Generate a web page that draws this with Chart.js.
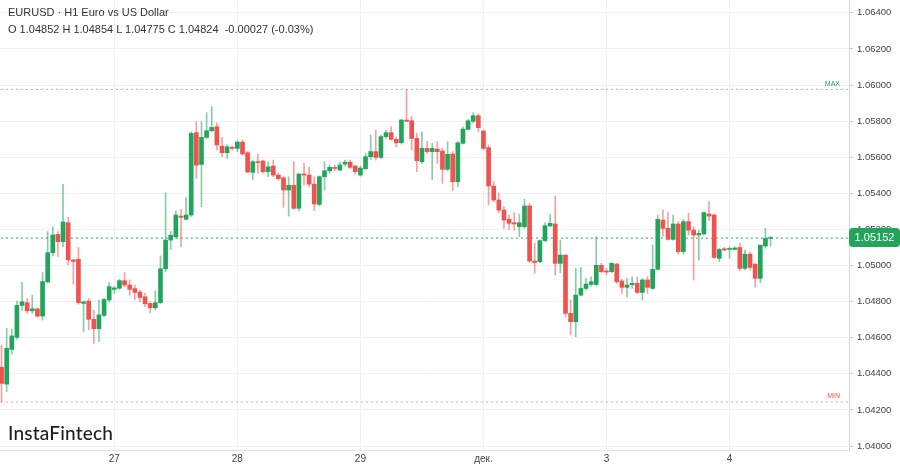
<!DOCTYPE html>
<html>
<head>
<meta charset="utf-8">
<script src="https://cdn.jsdelivr.net/npm/chart.js@4.4.1/dist/chart.umd.min.js"></script>
<style>
  body { margin: 0; background: #fff; }
  #wrap { position: relative; width: 900px; height: 468px; }
  .hdr { position: absolute; left: 8px; font: 11px "Liberation Sans", Arial, sans-serif; color: #333; white-space: pre; }
  #logo { position: absolute; left: 8px; top: 421px; font: 500 19px "Lato", "Noto Sans", sans-serif; color: #1e1e1e; letter-spacing: 0.2px; }
</style>
</head>
<body>
<div id="wrap">
  <canvas id="candles" width="900" height="468"></canvas>
  <div class="hdr" style="top:6px">EURUSD · H1 Euro vs US Dollar</div>
  <div class="hdr" style="top:23px">O 1.04852 H 1.04854 L 1.04775 C 1.04824  -0.00027 (-0.03%)</div>
  <div id="logo">InstaFintech</div>
</div>
<script>
// EURUSD H1 свечи (151 свеча)
const opens = [
  1.04436,1.04343,1.04535,1.04602,1.04779,1.04794,1.04749,1.04760,1.04720,1.04909,
  1.05071,1.05173,1.05132,1.05237,1.05031,1.05034,1.04790,1.04803,1.04702,1.04650,
  1.04724,1.04809,1.04868,1.04874,1.04916,1.04892,1.04872,1.04853,1.04827,1.04790,
  1.04766,1.04794,1.04982,1.05141,1.05160,1.05274,1.05256,1.05280,1.05736,1.05560,
  1.05710,1.05747,1.05769,1.05662,1.05625,1.05655,1.05649,1.05684,1.05625,1.05516,
  1.05575,1.05579,1.05520,1.05551,1.05501,1.05486,1.05418,1.05444,1.05317,1.05507,
  1.05501,1.05451,1.05339,1.05492,1.05525,1.05544,1.05529,1.05562,1.05573,1.05551,
  1.05501,1.05536,1.05603,1.05631,1.05599,1.05714,1.05736,1.05699,1.05680,1.05806,
  1.05802,1.05704,1.05575,1.05649,1.05631,1.05645,1.05634,1.05533,1.05618,1.05464,
  1.05677,1.05754,1.05799,1.05830,1.05745,1.05653,1.05440,1.05363,1.05307,1.05256,
  1.05237,1.05215,1.05215,1.05330,1.05025,1.05021,1.05138,1.05219,1.05230,1.05012,
  1.05058,1.04735,1.04689,1.04836,1.04873,1.04895,1.04895,1.05001,1.04970,1.04966,
  1.05008,1.04914,1.04879,1.04894,1.04901,1.04851,1.04920,1.04873,1.04979,1.05252,
  1.05206,1.05145,1.05230,1.05077,1.05243,1.05196,1.05169,1.05175,1.05285,1.05280,
  1.05040,1.05093,1.05089,1.05089,1.05100,1.04984,1.05063,1.05008,1.04929,1.05108,
  1.05150
];
const highs = [
  1.04559,1.04652,1.04647,1.04803,1.04907,1.04818,1.04836,1.04762,1.04961,1.05188,
  1.05215,1.05188,1.05450,1.05267,1.05034,1.05101,1.04803,1.04818,1.04753,1.04809,
  1.04818,1.04905,1.04883,1.04924,1.04962,1.04920,1.04892,1.04864,1.04846,1.04799,
  1.04860,1.05053,1.05403,1.05188,1.05302,1.05311,1.05377,1.05741,1.05797,1.05797,
  1.05847,1.05880,1.05791,1.05710,1.05668,1.05662,1.05692,1.05695,1.05631,1.05584,
  1.05618,1.05584,1.05575,1.05584,1.05511,1.05492,1.05492,1.05575,1.05510,1.05566,
  1.05544,1.05492,1.05496,1.05575,1.05557,1.05557,1.05575,1.05584,1.05584,1.05557,
  1.05551,1.05621,1.05723,1.05751,1.05723,1.05751,1.05769,1.05710,1.05810,1.05976,
  1.05825,1.05732,1.05741,1.05686,1.05677,1.05686,1.05649,1.05686,1.05631,1.05686,
  1.05769,1.05810,1.05847,1.05839,1.05751,1.05668,1.05464,1.05403,1.05326,1.05280,
  1.05293,1.05285,1.05367,1.05344,1.05123,1.05141,1.05237,1.05285,1.05385,1.05141,
  1.05058,1.04809,1.04984,1.04990,1.04929,1.04938,1.05160,1.05012,1.04984,1.05016,
  1.05012,1.04923,1.04929,1.04938,1.04938,1.04929,1.04938,1.05114,1.05280,1.05307,
  1.05293,1.05280,1.05243,1.05256,1.05289,1.05215,1.05196,1.05298,1.05354,1.05285,
  1.05095,1.05100,1.05104,1.05104,1.05123,1.05086,1.05076,1.05008,1.05113,1.05206,
  1.05160
];
const lows = [
  1.04244,1.04301,1.04509,1.04591,1.04753,1.04735,1.04735,1.04713,1.04698,1.04905,
  1.05052,1.05049,1.05104,1.05003,1.04898,1.04786,1.04634,1.04643,1.04569,1.04578,
  1.04716,1.04799,1.04846,1.04868,1.04883,1.04836,1.04809,1.04799,1.04772,1.04738,
  1.04753,1.04790,1.04966,1.05089,1.05151,1.05104,1.05252,1.05271,1.05483,1.05326,
  1.05704,1.05741,1.05640,1.05603,1.05594,1.05640,1.05631,1.05612,1.05514,1.05477,
  1.05511,1.05511,1.05492,1.05492,1.05474,1.05322,1.05274,1.05311,1.05304,1.05446,
  1.05437,1.05304,1.05330,1.05418,1.05511,1.05525,1.05525,1.05551,1.05538,1.05507,
  1.05496,1.05533,1.05588,1.05584,1.05592,1.05704,1.05695,1.05658,1.05673,1.05797,
  1.05640,1.05520,1.05566,1.05621,1.05477,1.05566,1.05455,1.05525,1.05415,1.05437,
  1.05673,1.05751,1.05791,1.05741,1.05640,1.05335,1.05354,1.05293,1.05206,1.05200,
  1.05197,1.05160,1.05206,1.05016,1.04957,1.05016,1.05132,1.05215,1.04947,1.04960,
  1.04716,1.04615,1.04606,1.04831,1.04864,1.04886,1.04886,1.04960,1.04947,1.04960,
  1.04901,1.04846,1.04824,1.04873,1.04846,1.04809,1.04846,1.04868,1.04975,1.05163,
  1.05141,1.05141,1.05064,1.05064,1.05169,1.04920,1.05030,1.05169,1.05248,1.05040,
  1.05021,1.05082,1.05040,1.05086,1.04971,1.04975,1.04975,1.04879,1.04905,1.05095,
  1.05108
];
const closes = [
  1.04347,1.04541,1.04610,1.04779,1.04799,1.04749,1.04760,1.04720,1.04911,1.05071,
  1.05169,1.05132,1.05241,1.05031,1.05023,1.04794,1.04799,1.04702,1.04650,1.04726,
  1.04812,1.04883,1.04876,1.04916,1.04892,1.04868,1.04851,1.04823,1.04788,1.04766,
  1.04794,1.04982,1.05141,1.05167,1.05280,1.05267,1.05280,1.05732,1.05556,1.05710,
  1.05747,1.05765,1.05668,1.05625,1.05658,1.05649,1.05684,1.05618,1.05518,1.05575,
  1.05570,1.05520,1.05547,1.05501,1.05481,1.05418,1.05444,1.05317,1.05507,1.05501,
  1.05451,1.05341,1.05492,1.05525,1.05544,1.05538,1.05557,1.05573,1.05544,1.05520,
  1.05540,1.05603,1.05631,1.05599,1.05714,1.05736,1.05699,1.05680,1.05806,1.05799,
  1.05704,1.05581,1.05649,1.05631,1.05649,1.05631,1.05533,1.05616,1.05464,1.05680,
  1.05756,1.05802,1.05830,1.05764,1.05649,1.05440,1.05363,1.05307,1.05252,1.05234,
  1.05230,1.05237,1.05330,1.05025,1.05017,1.05138,1.05221,1.05234,1.05012,1.05058,
  1.04735,1.04689,1.04836,1.04873,1.04897,1.04910,1.05001,1.04966,1.04964,1.05012,
  1.04910,1.04879,1.04892,1.04901,1.04851,1.04920,1.04879,1.04979,1.05256,1.05206,
  1.05145,1.05230,1.05077,1.05243,1.05196,1.05169,1.05178,1.05293,1.05274,1.05045,
  1.05089,1.05086,1.05093,1.05097,1.04984,1.05063,1.04990,1.04929,1.05113,1.05150,
  1.05152
];

// подписи дней и номера свечей, где они стоят
const dayLabels = ["27", "28", "29", "дек.", "3", "4"];
const dayIndex = [22, 46, 70, 94, 118, 142];

const maxPrice = 1.05976;
const minPrice = 1.04244;
const lastPrice = 1.05152;

const GREEN = "#22a55b";
const RED = "#f0524f";
const GREEN_WICK = "rgba(34,165,91,0.55)";
const RED_WICK = "rgba(240,82,79,0.55)";

function isUp(i) { return closes[i] >= opens[i]; }

// подпись MAX / MIN и плашка с текущей ценой
const overlay = {
  id: "overlay",
  afterDraw(chart) {
    const ctx = chart.ctx;
    const y = chart.scales.y;
    const area = chart.chartArea;
    ctx.save();
    ctx.font = "7px 'Liberation Sans', Arial, sans-serif";
    ctx.textAlign = "right";
    ctx.textBaseline = "bottom";
    ctx.fillStyle = GREEN;
    ctx.fillText("MAX", area.right - 9, y.getPixelForValue(maxPrice) - 2);
    ctx.fillStyle = RED;
    ctx.fillText("MIN", area.right - 9, y.getPixelForValue(minPrice) - 2);

    const py = y.getPixelForValue(lastPrice);
    ctx.fillStyle = GREEN;
    ctx.beginPath();
    ctx.roundRect(area.right, py - 10, 900 - area.right, 19, 4);
    ctx.fill();
    ctx.fillStyle = "#fff";
    ctx.font = "11px 'Liberation Sans', Arial, sans-serif";
    ctx.textAlign = "center";
    ctx.textBaseline = "middle";
    ctx.fillText(lastPrice.toFixed(5), area.right + (900 - area.right) / 2, py);
    ctx.restore();
  }
};

function hLine(value, color) {
  return {
    type: "line",
    data: [{ x: -5, y: value }, { x: 200, y: value }],
    borderColor: color,
    borderWidth: 1,
    borderDash: [2, 3],
    pointRadius: 0,
    order: 3
  };
}

new Chart(document.getElementById("candles"), {
  type: "bar",
  data: {
    datasets: [
      {
        label: "wicks",
        data: highs.map((h, i) => ({ x: i, y: [lows[i], h] })),
        backgroundColor: highs.map((h, i) => isUp(i) ? GREEN_WICK : RED_WICK),
        barThickness: 1,
        grouped: false,
        order: 2
      },
      {
        label: "bodies",
        data: opens.map((o, i) => ({ x: i, y: [o, closes[i]] })),
        backgroundColor: opens.map((o, i) => isUp(i) ? GREEN : RED),
        barThickness: 4,
        minBarLength: 1,
        grouped: false,
        order: 1
      },
      hLine(lastPrice, GREEN),
      hLine(maxPrice, "rgba(34,165,91,0.6)"),
      hLine(minPrice, "rgba(240,82,79,0.6)")
    ]
  },
  options: {
    responsive: false,
    devicePixelRatio: 1,
    animation: false,
    layout: { padding: 0 },
    plugins: { legend: { display: false }, tooltip: { enabled: false } },
    scales: {
      x: {
        type: "linear",
        offset: false,
        min: -0.3,
        max: 165.3,
        afterBuildTicks: s => { s.ticks = dayIndex.map(v => ({ value: v })); },
        afterFit: s => { s.height = 18; s.paddingLeft = 0; s.paddingRight = 0; },
        ticks: {
          autoSkip: false,
          maxRotation: 0,
          padding: 3,
          color: "#444",
          font: { family: "'Liberation Sans', Arial, sans-serif", size: 10 },
          callback: v => dayLabels[dayIndex.indexOf(v)]
        },
        grid: { color: "#eef0f4", drawTicks: false, offset: false },
        border: { color: "#dfe3ea" }
      },
      y: {
        position: "right",
        min: 1.03978,
        max: 1.06471,
        afterBuildTicks: s => {
          const t = [];
          for (let k = 0; k <= 12; k++) t.push({ value: 1.040 + k * 0.002 });
          s.ticks = t;
        },
        afterFit: s => { s.width = 51; s.paddingTop = 0; s.paddingBottom = 0; },
        ticks: {
          padding: 4,
          color: "#444",
          font: { family: "'Liberation Sans', Arial, sans-serif", size: 9.5 },
          callback: v => v.toFixed(5)
        },
        grid: { color: "#eef0f4", tickLength: 4, tickColor: "#c9ced6" },
        border: { color: "#d3d8e0" }
      }
    }
  },
  plugins: [overlay]
});
</script>
</body>
</html>
